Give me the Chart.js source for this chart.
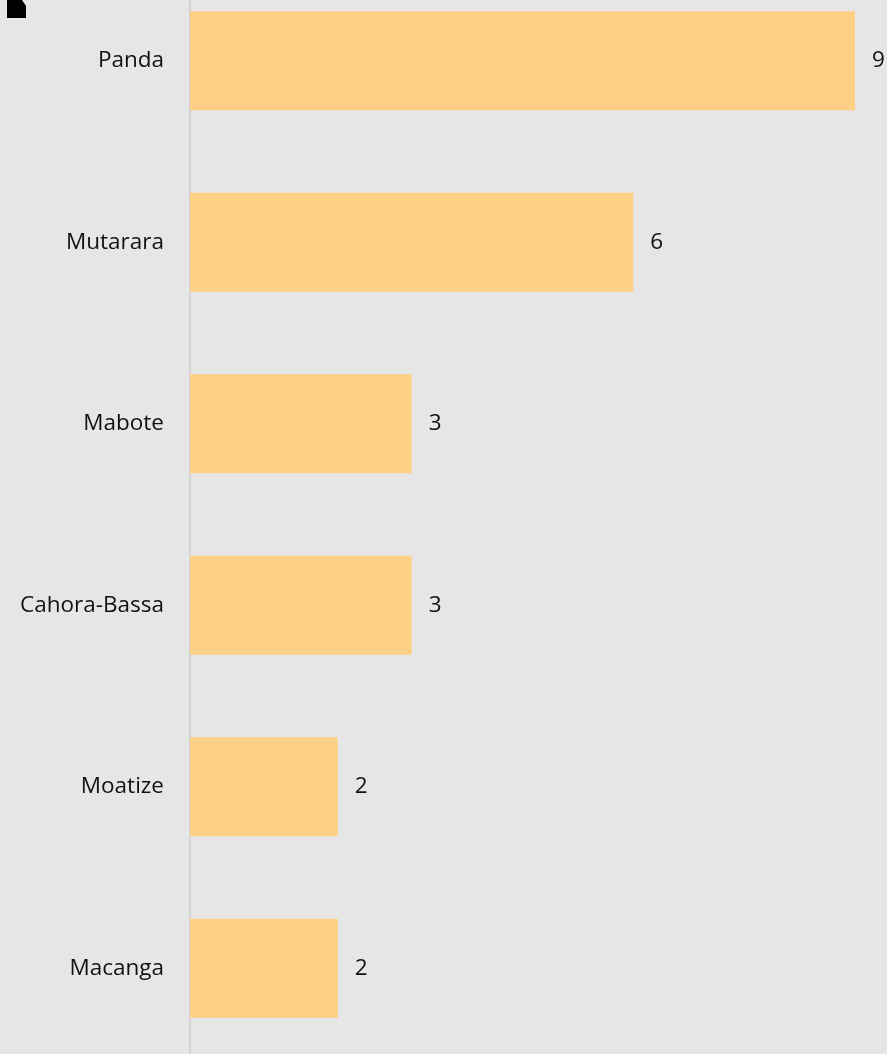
<!DOCTYPE html>
<html>
<head>
<meta charset="utf-8">
<script src="https://cdn.jsdelivr.net/npm/chart.js@4/dist/chart.umd.min.js"></script>
<style>
  html, body { margin: 0; padding: 0; background: #e6e6e6; overflow: hidden; }
  body { width: 887px; height: 1054px; position: relative; }
  #wrap { position: absolute; left: 0; top: -30px; width: 887px; height: 1089px; }
  #corner {
    position: absolute; left: 7px; top: 0; width: 19px; height: 18px; background: #000;
    clip-path: polygon(0 0, 15px 0, 19px 6px, 19px 18px, 0 18px);
  }
</style>
</head>
<body>
<div id="wrap"><canvas id="myChart"></canvas></div>
<div id="corner"></div>
<script>
const districts = ["Panda", "Mutarara", "Mabote", "Cahora-Bassa", "Moatize", "Macanga"];
const counts = [9, 6, 3, 3, 2, 2];

const FONT = "'Open Sans', sans-serif";
const FONT_SIZE = 22.5;

// writes each bar's value just past its end
const valueLabels = {
  id: "valueLabels",
  afterDatasetsDraw(chart) {
    const ctx = chart.ctx;
    const meta = chart.getDatasetMeta(0);
    ctx.save();
    ctx.font = FONT_SIZE + "px " + FONT;
    ctx.fillStyle = "#111";
    ctx.textAlign = "left";
    ctx.textBaseline = "middle";
    meta.data.forEach((bar, i) => {
      ctx.fillText(String(counts[i]), bar.x + 17, bar.y);
    });
    ctx.restore();
  },
};

const elementChart = document.querySelector("#myChart");

const data = {
  labels: districts,
  datasets: [
    {
      data: counts,
      backgroundColor: "#fdd085",
      borderWidth: 0,
      barPercentage: 0.545,
      categoryPercentage: 1,
    },
  ],
};

const configChart = {
  type: "bar",
  data: data,
  plugins: [valueLabels],
  options: {
    indexAxis: "y",
    responsive: true,
    maintainAspectRatio: false,
    animation: false,
    layout: { padding: { left: 0, right: 32, top: 0, bottom: 0 } },
    plugins: {
      legend: { display: false },
      tooltip: { enabled: false },
    },
    scales: {
      x: {
        display: false,
        min: 0,
        max: 9,
      },
      y: {
        afterFit(scale) {
          scale.width = 190;
          scale.paddingTop = 0;
          scale.paddingBottom = 0;
        },
        // invisible tick marks give the gap between labels and axis
        grid: { display: true, color: "rgba(0,0,0,0)", drawTicks: true, tickLength: 26 },
        border: { display: true, color: "#d3d3d3", width: 2 },
        ticks: {
          padding: 0,
          color: "#111",
          font: { family: FONT, size: FONT_SIZE },
        },
      },
    },
  },
};

const myChart = new Chart(elementChart, configChart);
</script>
</body>
</html>
